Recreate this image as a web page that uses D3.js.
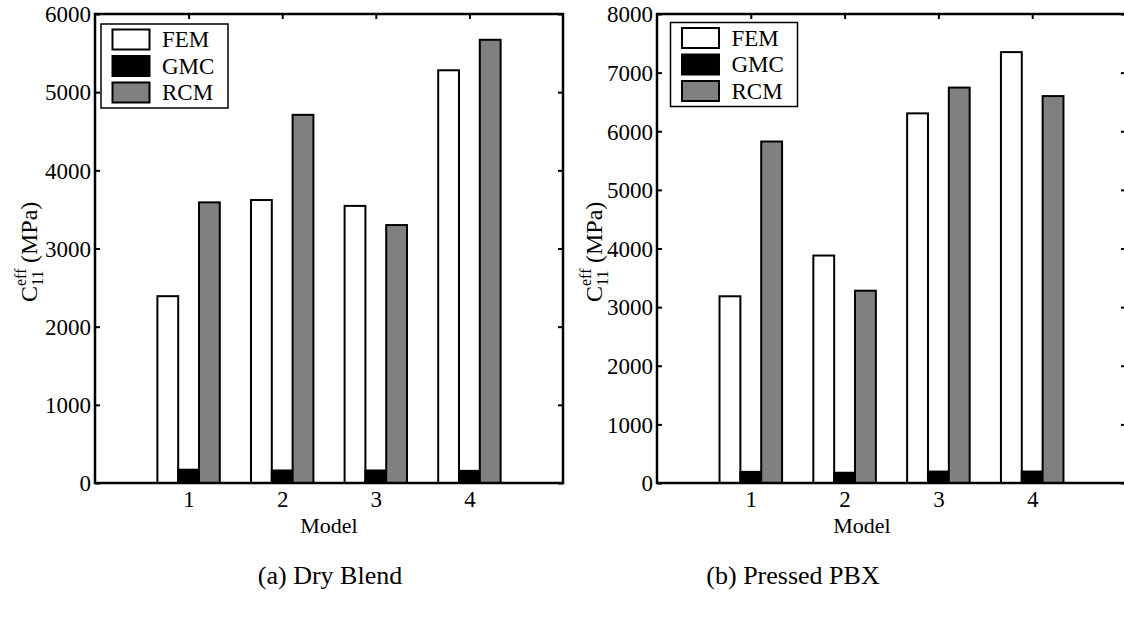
<!DOCTYPE html>
<html>
<head>
<meta charset="utf-8">
<script src="https://cdn.jsdelivr.net/npm/d3@7"></script>
<style>
  body { margin: 0; background: #fff; }
  svg text { font-family: "Liberation Serif", "Times New Roman", serif; fill: #000; }
</style>
</head>
<body>
<div id="chart"></div>
<script>
// data
const models = [1, 2, 3, 4];
const series = ["FEM", "GMC", "RCM"];
const colors = ["#ffffff", "#000000", "#808080"];

const dryFEM = [2390, 3620, 3545, 5280];
const dryGMC = [170, 160, 160, 155];
const dryRCM = [3590, 4710, 3300, 5670];

const pbxFEM = [3185, 3880, 6305, 7350];
const pbxGMC = [190, 175, 195, 195];
const pbxRCM = [5825, 3280, 6745, 6600];

const dryTicks = [0, 1000, 2000, 3000, 4000, 5000, 6000];
const pbxTicks = [0, 1000, 2000, 3000, 4000, 5000, 6000, 7000, 8000];

const svg = d3.select('#chart').append('svg').attr('width', 1124).attr('height', 617);

function drawPanel(p) {
  const x = d3.scaleLinear().domain([0, 5]).range([p.left, p.right]);
  const y = d3.scaleLinear().domain([0, p.yMax]).range([p.bottom, p.top]);
  const g = svg.append('g');
  const bw = 2 / 9; // bar width in x units (3 bars touching)
  const offs = [-bw, 0, bw];

  // bars
  p.values.forEach((vals, s) => {
    g.selectAll('.b' + s)
      .data(vals)
      .enter()
      .append('rect')
      .attr('x', (d, i) => x(models[i] + offs[s] - bw / 2))
      .attr('y', d => y(d))
      .attr('width', x(bw) - x(0))
      .attr('height', d => y(0) - y(d))
      .attr('fill', colors[s])
      .attr('stroke', '#000')
      .attr('stroke-width', 2);
  });

  // axes with inward ticks
  const ya = g.append('g').attr('transform', `translate(${p.left},0)`)
    .call(d3.axisLeft(y).tickValues(p.ticks).tickSize(-5).tickPadding(4).tickFormat(d3.format('d')));
  const yr = g.append('g').attr('transform', `translate(${p.right},0)`)
    .call(d3.axisRight(y).tickValues(p.ticks).tickSize(-5).tickFormat(''));
  const xa = g.append('g').attr('transform', `translate(0,${p.bottom})`)
    .call(d3.axisBottom(x).tickValues(models).tickSize(-5).tickPadding(8).tickFormat(d3.format('d')));
  const xt = g.append('g').attr('transform', `translate(0,${p.top})`)
    .call(d3.axisTop(x).tickValues(models).tickSize(-5).tickFormat(''));
  [ya, yr, xa, xt].forEach(a => {
    a.select('.domain').remove();
    a.selectAll('line').attr('stroke', '#000').attr('stroke-width', 2);
    a.selectAll('text').attr('font-size', 23).attr('fill', '#000');
  });
  ya.selectAll('text').attr('dy', '0.34em');
  xa.selectAll('text').attr('dy', '0.71em');

  g.append('rect')
    .attr('x', p.left).attr('y', p.top)
    .attr('width', p.right - p.left).attr('height', p.bottom - p.top)
    .attr('fill', 'none').attr('stroke', '#000').attr('stroke-width', 2.5);

  // legend
  const lg = g.append('g').attr('transform', `translate(${p.legX},${p.legY})`);
  lg.append('rect').attr('width', 127).attr('height', 84)
    .attr('fill', '#fff').attr('stroke', '#000').attr('stroke-width', 1.5);
  series.forEach((name, s) => {
    lg.append('rect')
      .attr('x', 11.5).attr('y', 5.5 + s * 26.5)
      .attr('width', 37).attr('height', 20)
      .attr('fill', colors[s]).attr('stroke', '#000').attr('stroke-width', 2);
    lg.append('text')
      .attr('x', 61).attr('y', 23 + s * 26.5)
      .attr('font-size', 23).text(name);
  });

  // x label
  g.append('text').attr('x', p.modelX).attr('y', 533)
    .attr('text-anchor', 'middle').attr('font-size', 22).text('Model');

  // y label: C^eff_11 (MPa), rotated
  const yl = g.append('g').attr('transform', `translate(${p.ylabX},${p.ylabY}) rotate(-90)`);
  yl.append('text').attr('x', 0).attr('y', 0).attr('font-size', 24).text('C');
  yl.append('text').attr('x', 16).attr('y', -11).attr('font-size', 16).text('eff');
  yl.append('text').attr('x', 16).attr('y', 6).attr('font-size', 16).text('11');
  yl.append('text').attr('x', 39).attr('y', 0).attr('font-size', 24).text('(MPa)');

  // caption
  g.append('text').attr('x', p.capX).attr('y', 584)
    .attr('text-anchor', 'middle').attr('font-size', 26).text(p.caption);
}

drawPanel({
  left: 95, right: 563, top: 14, bottom: 483, yMax: 6000, ticks: dryTicks,
  values: [dryFEM, dryGMC, dryRCM],
  legX: 101, legY: 24, modelX: 329, ylabX: 37, ylabY: 302,
  capX: 330, caption: '(a) Dry Blend'
});

drawPanel({
  left: 657, right: 1126, top: 14, bottom: 483, yMax: 8000, ticks: pbxTicks,
  values: [pbxFEM, pbxGMC, pbxRCM],
  legX: 670.5, legY: 22.5, modelX: 862, ylabX: 602, ylabY: 302,
  capX: 793, caption: '(b) Pressed PBX'
});
</script>
</body>
</html>
